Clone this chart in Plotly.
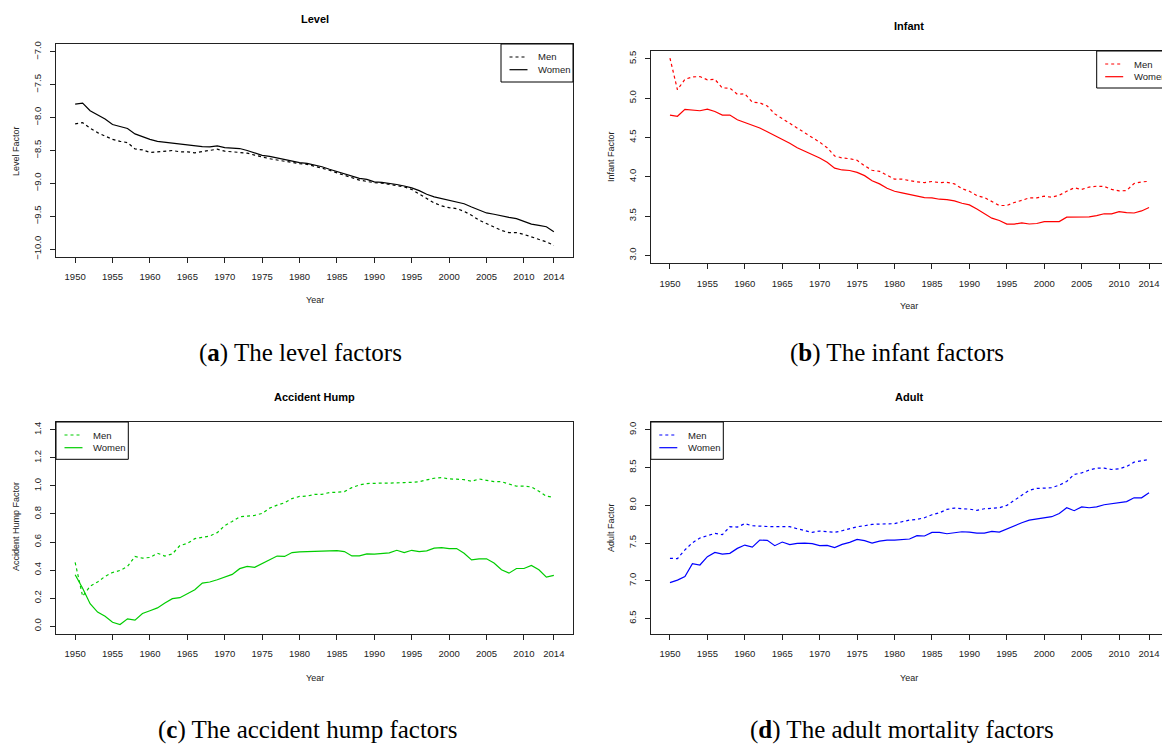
import plotly.graph_objects as go

W, H = 1162, 745
years = list(range(1950, 2015))

level_men = [-8.095, -8.075, -8.16, -8.228, -8.28, -8.33, -8.36, -8.38, -8.477, -8.49,
             -8.53, -8.52, -8.51, -8.50, -8.52, -8.52, -8.535, -8.52, -8.50, -8.48,
             -8.51, -8.52, -8.52, -8.54, -8.57, -8.60, -8.625, -8.645, -8.666, -8.686,
             -8.70, -8.71, -8.737, -8.767, -8.80, -8.84, -8.874, -8.915, -8.95, -8.97,
             -8.99, -8.997, -9.017, -9.037, -9.053, -9.093, -9.155, -9.23, -9.297, -9.343,
             -9.37, -9.384, -9.425, -9.486, -9.56, -9.613, -9.66, -9.715, -9.75, -9.75,
             -9.776, -9.816, -9.857, -9.89, -9.944]
level_women = [-7.795, -7.78, -7.896, -7.957, -8.02, -8.105, -8.136, -8.166, -8.248, -8.29,
               -8.33, -8.36, -8.375, -8.38, -8.406, -8.42, -8.436, -8.44, -8.446, -8.43,
               -8.457, -8.46, -8.47, -8.50, -8.54, -8.574, -8.59, -8.615, -8.645, -8.67,
               -8.684, -8.696, -8.72, -8.747, -8.785, -8.82, -8.86, -8.90, -8.925, -8.94,
               -8.976, -8.986, -9.0, -9.017, -9.04, -9.068, -9.11, -9.165, -9.205, -9.23,
               -9.256, -9.28, -9.31, -9.36, -9.41, -9.45, -9.47, -9.496, -9.516, -9.536,
               -9.58, -9.62, -9.64, -9.66, -9.735]
infant_men = [5.51, 5.107, 5.24, 5.27, 5.275, 5.233, 5.24, 5.13, 5.128, 5.05,
              5.056, 4.95, 4.94, 4.90, 4.80, 4.74, 4.675, 4.62, 4.565, 4.506,
              4.44, 4.37, 4.265, 4.24, 4.23, 4.21, 4.14, 4.083, 4.07, 4.02,
              3.97, 3.97, 3.95, 3.935, 3.926, 3.94, 3.926, 3.93, 3.91, 3.85,
              3.816, 3.76, 3.736, 3.685, 3.635, 3.635, 3.673, 3.70, 3.732, 3.732,
              3.753, 3.74, 3.765, 3.816, 3.86, 3.84, 3.87, 3.88, 3.877, 3.84,
              3.82, 3.826, 3.915, 3.935, 3.943]
infant_women = [4.785, 4.77, 4.857, 4.85, 4.84, 4.86, 4.83, 4.785, 4.785, 4.726,
                4.69, 4.66, 4.62, 4.574, 4.527, 4.476, 4.426, 4.37, 4.33, 4.28,
                4.24, 4.184, 4.11, 4.087, 4.08, 4.057, 4.015, 3.95, 3.91, 3.855,
                3.816, 3.795, 3.774, 3.753, 3.736, 3.732, 3.715, 3.71, 3.694, 3.664,
                3.643, 3.59, 3.537, 3.474, 3.444, 3.398, 3.398, 3.415, 3.40, 3.406,
                3.43, 3.428, 3.43, 3.487, 3.49, 3.49, 3.49, 3.507, 3.53, 3.528,
                3.558, 3.545, 3.54, 3.566, 3.609]
hump_men = [0.454, 0.213, 0.284, 0.315, 0.355, 0.383, 0.397, 0.426, 0.497, 0.485,
            0.49, 0.52, 0.50, 0.515, 0.575, 0.59, 0.624, 0.634, 0.643, 0.667,
            0.717, 0.747, 0.78, 0.785, 0.79, 0.804, 0.842, 0.863, 0.88, 0.91,
            0.925, 0.927, 0.94, 0.94, 0.953, 0.955, 0.96, 0.988, 1.007, 1.017,
            1.02, 1.02, 1.02, 1.02, 1.024, 1.026, 1.03, 1.043, 1.055, 1.06,
            1.05, 1.048, 1.045, 1.033, 1.05, 1.04, 1.031, 1.03, 1.015, 0.998,
            0.998, 0.993, 0.962, 0.927, 0.918]
hump_women = [0.367, 0.27, 0.16, 0.10, 0.07, 0.028, 0.012, 0.052, 0.043, 0.09,
              0.11, 0.13, 0.165, 0.196, 0.203, 0.232, 0.26, 0.307, 0.315, 0.331,
              0.35, 0.369, 0.41, 0.426, 0.42, 0.445, 0.473, 0.5, 0.497, 0.525,
              0.53, 0.532, 0.537, 0.539, 0.539, 0.539, 0.532, 0.501, 0.501, 0.516,
              0.513, 0.518, 0.523, 0.541, 0.525, 0.541, 0.532, 0.537, 0.556, 0.56,
              0.553, 0.553, 0.52, 0.473, 0.48, 0.48, 0.45, 0.402, 0.378, 0.411,
              0.411, 0.433, 0.402, 0.35, 0.362]
adult_men = [7.298, 7.294, 7.41, 7.505, 7.567, 7.598, 7.629, 7.611, 7.717, 7.713,
             7.757, 7.73, 7.72, 7.72, 7.717, 7.713, 7.717, 7.69, 7.664, 7.642,
             7.66, 7.65, 7.642, 7.664, 7.695, 7.717, 7.73, 7.748, 7.752, 7.752,
             7.757, 7.783, 7.805, 7.814, 7.836, 7.876, 7.902, 7.946, 7.964, 7.955,
             7.95, 7.933, 7.955, 7.96, 7.968, 8.0, 8.07, 8.14, 8.2, 8.224,
             8.228, 8.233, 8.268, 8.317, 8.41, 8.43, 8.467, 8.493, 8.493, 8.475,
             8.484, 8.515, 8.572, 8.586, 8.608]
adult_women = [6.976, 7.01, 7.056, 7.227, 7.21, 7.32, 7.377, 7.355, 7.364, 7.43,
               7.474, 7.447, 7.54, 7.536, 7.466, 7.514, 7.479, 7.496, 7.5, 7.492,
               7.466, 7.47, 7.44, 7.483, 7.51, 7.55, 7.532, 7.5, 7.525, 7.54,
               7.54, 7.55, 7.554, 7.598, 7.594, 7.642, 7.642, 7.624, 7.637, 7.65,
               7.646, 7.633, 7.633, 7.655, 7.646, 7.69, 7.735, 7.77, 7.805, 7.823,
               7.832, 7.85, 7.893, 7.968, 7.929, 7.98, 7.968, 7.98, 8.008, 8.02,
               8.04, 8.05, 8.1, 8.1, 8.167]

x_ticks = [1950, 1955, 1960, 1965, 1970, 1975, 1980, 1985, 1990, 1995, 2000, 2005, 2010, 2014]
level_ticks = [-7.0, -7.5, -8.0, -8.5, -9.0, -9.5, -10.0]
infant_ticks = [3.0, 3.5, 4.0, 4.5, 5.0, 5.5]
hump_ticks = [0.0, 0.2, 0.4, 0.6, 0.8, 1.0, 1.2, 1.4]
adult_ticks = [6.5, 7.0, 7.5, 8.0, 8.5, 9.0]

titles = ["Level", "Infant", "Accident Hump", "Adult"]
ylabels = ["Level Factor", "Infant Factor", "Accident Hump Factor", "Adult Factor"]
captions = ["(<b>a</b>) The level factors", "(<b>b</b>) The infant factors",
            "(<b>c</b>) The accident hump factors", "(<b>d</b>) The adult mortality factors"]
series_names = ["Men", "Women"]
colors = ["black", "#FF0000", "#00CD00", "#0000FF"]


def fmt(v):
    s = f"{abs(v):.1f}"
    return ("\u2212" + s) if v < 0 else s


def px(x):
    # page pixel -> paper fraction
    return x / W


def py(y):
    return 1 - y / H


SANS = "Liberation Sans, Arial, Helvetica, sans-serif"
SERIF = "Liberation Serif, Times New Roman, serif"

# panel geometry (page-pixel boxes) and axis ranges
panels = [
    dict(box=(56, 573, 44, 257), xr=[1947.44, 2016.56], yr=[-10.12, -6.88],
         yt=level_ticks, men=level_men, women=level_women,
         title_xy=(314.5, 19), year_xy=(314.5, 300), ylab_xy=(16, 151),
         leg=(501, 573, 44, 82), mirror_y=True),
    dict(box=(650.8, 1162, 51, 263.3), xr=[1947.44, 2015.73], yr=[2.9, 5.6],
         yt=infant_ticks, men=infant_men, women=infant_women,
         title_xy=(909, 26), year_xy=(909, 306), ylab_xy=(611, 157),
         leg=(1096.7, 1175, 51, 88), mirror_y=False),
    dict(box=(56, 573, 422, 634), xr=[1947.44, 2016.56], yr=[-0.056, 1.456],
         yt=hump_ticks, men=hump_men, women=hump_women,
         title_xy=(314.5, 397), year_xy=(314.5, 678), ylab_xy=(16, 527),
         leg=(56, 128.3, 422, 459.3), mirror_y=True),
    dict(box=(650.8, 1162, 422, 634), xr=[1947.44, 2015.73], yr=[6.296, 9.104],
         yt=adult_ticks, men=adult_men, women=adult_women,
         title_xy=(909, 397), year_xy=(909, 678), ylab_xy=(611, 528),
         leg=(650.8, 723.3, 422, 459.3), mirror_y=True),
]

fig = go.Figure()
layout = dict(width=W, height=H, margin=dict(l=0, r=0, t=0, b=0), autosize=False,
              paper_bgcolor="white", plot_bgcolor="white", showlegend=False)
annotations = []
shapes = []

for i, p in enumerate(panels):
    k = "" if i == 0 else str(i + 1)
    x0, x1, y0, y1 = p["box"]
    col = colors[i]
    fig.add_trace(go.Scatter(x=years, y=p["men"], mode="lines", name=series_names[0],
                             line=dict(color=col, width=1.2, dash="3px,3px"),
                             xaxis="x" + k, yaxis="y" + k))
    fig.add_trace(go.Scatter(x=years, y=p["women"], mode="lines", name=series_names[1],
                             line=dict(color=col, width=1.2),
                             xaxis="x" + k, yaxis="y" + k))
    layout["xaxis" + k] = dict(
        domain=[px(x0), min(px(x1), 1.0)], range=p["xr"], anchor="y" + k,
        tickmode="array", tickvals=x_ticks, ticktext=[str(t) for t in x_ticks],
        ticks="outside", ticklen=5, tickwidth=1, tickcolor="#222",
        showline=True, linecolor="#222", linewidth=1, mirror=True,
        showgrid=False, zeroline=False, automargin=False, fixedrange=True,
        tickfont=dict(family=SANS, size=9.5, color="#222"), ticklabelstandoff=6,
        ticklabeloverflow="allow")
    layout["yaxis" + k] = dict(
        domain=[py(y1), py(y0)], range=p["yr"], anchor="x" + k,
        tickmode="array", tickvals=p["yt"], ticktext=[fmt(v) for v in p["yt"]],
        tickangle=-90,
        ticks="outside", ticklen=5, tickwidth=1, tickcolor="#222",
        showline=True, linecolor="#222", linewidth=1, mirror=p["mirror_y"],
        showgrid=False, zeroline=False, automargin=False, fixedrange=True,
        tickfont=dict(family=SANS, size=9.5, color="#222"), ticklabelstandoff=5)

    tx, ty = p["title_xy"]
    annotations.append(dict(x=px(tx), y=py(ty), xref="paper", yref="paper",
                            text="<b>" + titles[i] + "</b>", showarrow=False,
                            xanchor="center", yanchor="middle",
                            font=dict(family=SANS, size=11, color="black")))
    yx, yy = p["year_xy"]
    annotations.append(dict(x=px(yx), y=py(yy), xref="paper", yref="paper",
                            text="Year", showarrow=False, xanchor="center", yanchor="middle",
                            font=dict(family=SANS, size=9, color="#222")))
    lx, ly = p["ylab_xy"]
    annotations.append(dict(x=px(lx), y=py(ly), xref="paper", yref="paper",
                            text=ylabels[i], showarrow=False, textangle=-90,
                            xanchor="center", yanchor="middle",
                            font=dict(family=SANS, size=9, color="#222")))

    # legend box drawn inside each panel
    lx0, lx1, ly0, ly1 = p["leg"]
    shapes.append(dict(type="rect", xref="paper", yref="paper",
                       x0=px(lx0), x1=px(lx1), y0=py(ly1), y1=py(ly0),
                       line=dict(color="black", width=1), fillcolor="white", layer="above"))
    for j, nm in enumerate(series_names):
        yy_ = ly0 + 13 + j * 12.7
        shapes.append(dict(type="line", xref="paper", yref="paper",
                           x0=px(lx0 + 8.5), x1=px(lx0 + 26.5), y0=py(yy_), y1=py(yy_),
                           line=dict(color=col, width=1.2, dash="3px,3px" if j == 0 else "solid"),
                           layer="above"))
        annotations.append(dict(x=px(lx0 + 35), y=py(yy_), xref="paper", yref="paper",
                                text=nm, showarrow=False, xanchor="left", yanchor="middle",
                                font=dict(family=SANS, size=9.5, color="#222")))

cap_xy = [(300, 353), (897, 353), (307, 730), (902, 730)]
for i, c in enumerate(captions):
    annotations.append(dict(x=px(cap_xy[i][0]), y=py(cap_xy[i][1]), xref="paper", yref="paper",
                            text=c, showarrow=False, xanchor="center", yanchor="middle",
                            font=dict(family=SERIF, size=25, color="black")))

layout["annotations"] = annotations
layout["shapes"] = shapes
fig.update_layout(**layout)

# remove the page's default body margin so the figure fills the window exactly
page_js = ("document.documentElement.style.overflow='hidden';"
           "document.body.style.margin='0';document.body.style.overflow='hidden';")
fig.write_html("out.html", post_script=page_js,
               config={"displayModeBar": False, "staticPlot": True})
